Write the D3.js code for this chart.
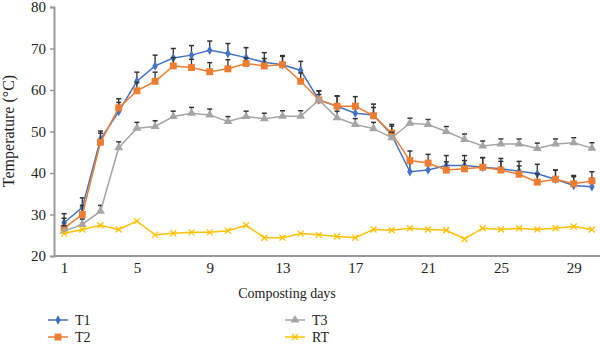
<!DOCTYPE html>
<html>
<head>
<meta charset="utf-8">
<script src="https://cdn.jsdelivr.net/npm/d3@7"></script>
<style>
  body { margin: 0; background: #fff; }
  text { font-family: "Liberation Serif", "DejaVu Serif", serif; fill: #222; }
</style>
</head>
<body>
<div id="chart"></div>
<script>
const width = 600;
const height = 346;

// composting temperature by day, with upward error bars
const days = [1, 2, 3, 4, 5, 6, 7, 8, 9, 10, 11, 12, 13, 14, 15,
  16, 17, 18, 19, 20, 21, 22, 23, 24, 25, 26, 27, 28, 29, 30];
const dayTicks = [1, 5, 9, 13, 17, 21, 25, 29];
const tempTicks = [20, 30, 40, 50, 60, 70, 80];

const t1 = [28.0, 31.7, 48.1, 54.8, 62.1, 65.8, 67.7, 68.4, 69.6, 68.8, 67.8, 66.7, 66.1, 64.7, 57.6,
  56.1, 54.4, 54.0, 49.2, 40.3, 40.7, 41.8, 41.8, 41.4, 41.0, 40.4, 39.8, 38.5, 37.0, 36.7];
const t2 = [26.7, 30.0, 47.4, 55.7, 59.8, 62.1, 65.8, 65.4, 64.4, 65.1, 66.4, 65.8, 66.1, 62.1, 57.6,
  56.1, 56.1, 53.8, 49.6, 43.0, 42.4, 40.7, 41.0, 41.4, 40.7, 39.7, 37.8, 38.5, 37.4, 38.1];
const t3 = [26.0, 27.6, 30.8, 46.1, 50.8, 51.2, 53.6, 54.4, 54.0, 52.4, 53.6, 53.1, 53.7, 53.7, 57.6,
  53.3, 51.7, 50.7, 48.5, 52.0, 51.7, 50.0, 48.1, 46.5, 47.0, 47.0, 45.9, 47.0, 47.3, 46.0];
const rt = [25.4, 26.4, 27.4, 26.4, 28.4, 25.1, 25.5, 25.7, 25.7, 26.1, 27.4, 24.4, 24.4, 25.4, 25.1,
  24.7, 24.4, 26.4, 26.2, 26.7, 26.4, 26.2, 24.1, 26.7, 26.4, 26.7, 26.4, 26.7, 27.1, 26.4];

const t1Err = [2.2, 2.3, 2.0, 2.2, 2.2, 2.6, 2.3, 2.3, 2.2, 2.4, 2.4, 2.3, 2.2, 2.2, 2.2,
  2.4, 2.3, 2.6, 2.1, 2.0, 2.1, 2.4, 2.4, 2.3, 2.5, 2.4, 2.3, 2.2, 2.1, 2.0];
const t2Err = [2.4, 2.2, 2.2, 2.2, 2.0, 2.2, 2.0, 2.0, 2.2, 2.2, 1.3, 1.8, 2.0, 2.0, 2.2,
  2.5, 2.3, 2.0, 2.1, 2.3, 2.1, 2.0, 2.0, 2.3, 2.1, 2.0, 2.0, 2.2, 2.0, 2.2];
const t3Err = [1.3, 1.3, 1.4, 1.4, 1.4, 1.4, 1.3, 1.4, 1.4, 1.2, 1.3, 1.3, 1.3, 1.3, 1.3,
  1.6, 1.4, 1.5, 1.3, 1.2, 1.2, 1.2, 1.3, 1.2, 1.2, 1.2, 1.3, 1.2, 1.2, 1.3];

const series = [
  { name: "T1", values: t1, err: t1Err, color: "#4472C4", symbol: d3.symbolDiamond, size: 26 },
  { name: "T2", values: t2, err: t2Err, color: "#ED7D31", symbol: d3.symbolSquare, size: 48 },
  { name: "T3", values: t3, err: t3Err, color: "#A5A5A5", symbol: d3.symbolTriangle, size: 34 },
  { name: "RT", values: rt, err: null, color: "#FFC000", symbol: d3.symbolCross, size: 0 }
];

const svg = d3.select("#chart").append("svg")
  .attr("width", width)
  .attr("height", height);

const x = d3.scaleLinear().domain([0.5, 30.5]).range([55, 601]);
const y = d3.scaleLinear().domain([20, 80]).range([256, 7]);

// axes
const yAxis = svg.append("g")
  .attr("transform", "translate(54,0)")
  .call(d3.axisLeft(y).tickValues(tempTicks).tickSize(4).tickPadding(4));
yAxis.select(".domain").attr("stroke", "#999").attr("stroke-width", 2);
yAxis.selectAll(".tick line").attr("stroke", "#999").attr("stroke-width", 1.5);
yAxis.selectAll("text").style("font-size", "15px").attr("fill", "#222");

const xAxis = svg.append("g")
  .attr("transform", "translate(0,256)")
  .call(d3.axisBottom(x).tickValues(dayTicks).tickSize(0).tickPadding(6));
xAxis.select(".domain").attr("stroke", "#999").attr("stroke-width", 2).attr("d", "M54,0H601");
xAxis.selectAll("text").style("font-size", "15px").attr("fill", "#222");

svg.append("text")
  .attr("transform", "translate(14,131) rotate(-90)")
  .attr("text-anchor", "middle")
  .style("font-size", "16px")
  .text("Temperature (°C)");

svg.append("text")
  .attr("x", 287)
  .attr("y", 298)
  .attr("text-anchor", "middle")
  .style("font-size", "14px")
  .text("Composting days");

const line = d3.line()
  .x((d, i) => x(days[i]))
  .y(d => y(d));

function drawMarker(g, s, cx, cy) {
  if (s.name === "RT") {
    const r = 3;
    g.append("path")
      .attr("d", `M${cx - r},${cy - r}L${cx + r},${cy + r}M${cx - r},${cy + r}L${cx + r},${cy - r}`)
      .attr("stroke", s.color)
      .attr("stroke-width", 1.3);
  } else {
    g.append("path")
      .attr("d", d3.symbol(s.symbol, s.size)())
      .attr("transform", `translate(${cx},${cy})`)
      .attr("fill", s.color);
  }
}

series.forEach(s => {
  const g = svg.append("g");

  if (s.err) {
    const bars = g.selectAll(".err").data(s.values).enter().append("g");
    bars.append("line")
      .attr("x1", (d, i) => x(days[i]))
      .attr("x2", (d, i) => x(days[i]))
      .attr("y1", d => y(d))
      .attr("y2", (d, i) => y(d + s.err[i]))
      .attr("stroke", "#333")
      .attr("stroke-width", 1.3);
    bars.append("line")
      .attr("x1", (d, i) => x(days[i]) - 2.5)
      .attr("x2", (d, i) => x(days[i]) + 2.5)
      .attr("y1", (d, i) => y(d + s.err[i]))
      .attr("y2", (d, i) => y(d + s.err[i]))
      .attr("stroke", "#333")
      .attr("stroke-width", 1.5);
  }

  g.append("path")
    .datum(s.values)
    .attr("d", line)
    .attr("fill", "none")
    .attr("stroke", s.color)
    .attr("stroke-width", 1.5);

  s.values.forEach((v, i) => drawMarker(g, s, x(days[i]), y(v)));
});

// legend, two columns
const legendPos = [[48, 320], [48, 337], [285, 320], [285, 337]];
series.forEach((s, i) => {
  const [lx, ly] = legendPos[i];
  const g = svg.append("g");
  g.append("line")
    .attr("x1", lx).attr("x2", lx + 20)
    .attr("y1", ly).attr("y2", ly)
    .attr("stroke", s.color)
    .attr("stroke-width", 1.5);
  drawMarker(g, s, lx + 10, ly);
  g.append("text")
    .attr("x", lx + 27)
    .attr("y", ly + 5)
    .style("font-size", "14px")
    .text(s.name);
});
</script>
</body>
</html>
